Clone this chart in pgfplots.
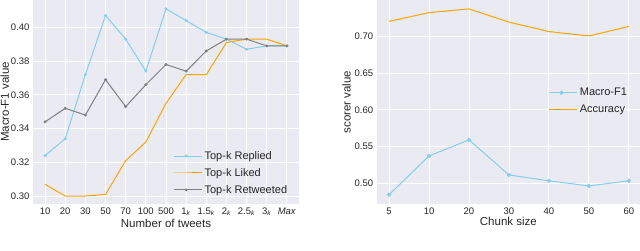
\documentclass[border=0pt]{standalone}
\usepackage{pgfplots}
\pgfplotsset{compat=1.18}
\usepackage{fontspec}
\setmainfont{Liberation Sans}
\definecolor{sbbg}{RGB}{234,234,242}
\definecolor{sky}{RGB}{135,206,235}
\definecolor{orng}{RGB}{255,165,0}
\definecolor{txt}{RGB}{38,38,38}
\pgfplotsset{
  sbstyle/.style={
    scale only axis,
    axis background/.style={fill=sbbg},
    axis line style={draw=none},
    grid=major,
    major grid style={white, line width=0.9pt},
    tick style={draw=none},
    /pgf/number format/assume math mode=true,
    ticklabel style={font=\fontsize{9.5}{11}\selectfont, text=txt},
    label style={font=\fontsize{11.5}{13}\selectfont, text=txt},
    legend style={draw=none, fill=none, font=\fontsize{11}{13}\selectfont, text=txt, row sep=3.5pt},
    legend cell align=left,
    legend image code/.code={\draw[mark repeat=2,mark phase=2,##1] plot coordinates {(0cm,0cm) (0.42cm,0cm) (0.84cm,0cm)};
      \path (0.84cm,0cm) -- (0.98cm,0cm);},
    every axis plot/.append style={line width=1pt},
  }
}
\begin{document}
\begin{tikzpicture}
\path[use as bounding box] (0pt,0pt) rectangle (640pt,251pt);
\begin{axis}[sbstyle,
  at={(33pt,47pt)}, anchor=south west,
  width=266pt, height=204pt,
  xmin=-0.6, xmax=12.6, ymin=0.2953, ymax=0.4162,
  xtick={0,...,12},
  xticklabels={10,20,30,50,70,100,500,1\textsubscript{\textit{k}},1.5\textsubscript{\textit{k}},2\textsubscript{\textit{k}},2.5\textsubscript{\textit{k}},3\textsubscript{\textit{k}},\textit{Max}},
  ytick={0.30,0.32,0.34,0.36,0.38,0.40},
  yticklabel style={/pgf/number format/fixed,/pgf/number format/fixed zerofill,/pgf/number format/precision=2},
  xlabel={Number of tweets}, ylabel={Macro-F1 value},
  xlabel style={yshift=4pt}, ylabel style={yshift=-5pt},
  legend style={at={(0.975,0.025)}, anchor=south east},
]
\addplot[color=sky, mark=*, mark size=0.9pt] coordinates {
(0,0.324) (1,0.334) (2,0.372) (3,0.407) (4,0.393) (5,0.374) (6,0.411) (7,0.404) (8,0.397) (9,0.393) (10,0.387) (11,0.389) (12,0.389)};
\addlegendentry{Top-k Replied}
\addplot[color=orng, no marks] coordinates {
(0,0.307) (1,0.300) (2,0.300) (3,0.301) (4,0.321) (5,0.332) (6,0.355) (7,0.372) (8,0.372) (9,0.391) (10,0.393) (11,0.393) (12,0.389)};
\addlegendentry{Top-k Liked}
\addplot[color=gray, mark=*, mark size=0.9pt] coordinates {
(0,0.344) (1,0.352) (2,0.348) (3,0.369) (4,0.353) (5,0.366) (6,0.378) (7,0.374) (8,0.386) (9,0.393) (10,0.393) (11,0.389) (12,0.389)};
\addlegendentry{Top-k Retweeted}
\end{axis}
\begin{axis}[sbstyle,
  at={(376.7pt,47pt)}, anchor=south west,
  width=263.3pt, height=204pt,
  xmin=-0.31, xmax=6.28, ymin=0.4713, ymax=0.7502,
  xtick={0,...,6},
  xticklabels={5,10,20,30,40,50,60},
  ytick={0.50,0.55,0.60,0.65,0.70},
  yticklabel style={/pgf/number format/fixed,/pgf/number format/fixed zerofill,/pgf/number format/precision=2},
  xlabel={Chunk size}, ylabel={scorer value},
  xlabel style={yshift=4pt}, ylabel style={yshift=-3pt},
  legend style={at={(0.97,0.505)}, anchor=east},
]
\addplot[color=sky, mark=*, mark size=1.6pt] coordinates {
(0,0.484) (1,0.537) (2,0.559) (3,0.511) (4,0.503) (5,0.496) (6,0.503)};
\addlegendentry{Macro-F1}
\addplot[color=orng, no marks] coordinates {
(0,0.721) (1,0.733) (2,0.738) (3,0.720) (4,0.707) (5,0.701) (6,0.714)};
\addlegendentry{Accuracy}
\end{axis}
\end{tikzpicture}
\end{document}
